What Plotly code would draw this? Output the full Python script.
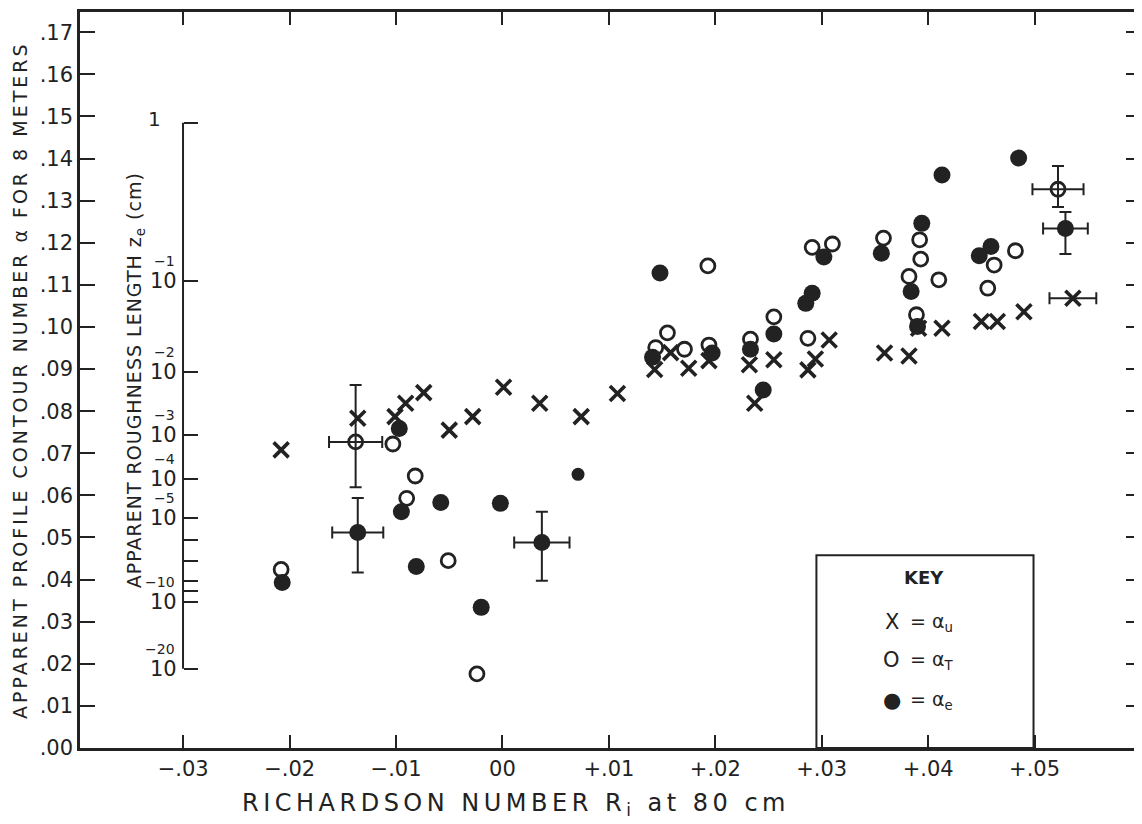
import plotly.graph_objects as go

INK = "#222222"

# ---------------- data (Richardson number Ri, contour number alpha) ----------------
# alpha_u  (X markers)
u_ri = [-0.0208, -0.0136, -0.0101, -0.0091, -0.0074, -0.0050, -0.0028, 0.0001, 0.0035,
        0.0074, 0.0108, 0.0143, 0.0158, 0.0175, 0.0194, 0.0232, 0.0237, 0.0255, 0.0287,
        0.0294, 0.0307, 0.0359, 0.0382, 0.0391, 0.0413, 0.0450, 0.0465, 0.0490]
u_alpha = [0.0708, 0.0783, 0.0787, 0.0819, 0.0844, 0.0755, 0.0787, 0.0857, 0.0819,
           0.0787, 0.0842, 0.0899, 0.0939, 0.0902, 0.0920, 0.0910, 0.0819, 0.0922, 0.0898,
           0.0924, 0.0969, 0.0938, 0.0931, 0.0997, 0.0997, 0.1013, 0.1013, 0.1036]

# alpha_T  (open circles)
t_ri = [-0.0208, -0.0103, -0.0082, -0.0090, -0.0051, -0.0024, 0.0144, 0.0155, 0.0171,
        0.0193, 0.0194, 0.0233, 0.0255, 0.0287, 0.0291, 0.0310, 0.0358, 0.0382, 0.0389,
        0.0392, 0.0393, 0.0410, 0.0456, 0.0462, 0.0482]
t_alpha = [0.0424, 0.0722, 0.0646, 0.0593, 0.0445, 0.0176, 0.0951, 0.0986, 0.0947,
           0.1145, 0.0957, 0.0971, 0.1024, 0.0973, 0.1189, 0.1197, 0.1211, 0.1120, 0.1029,
           0.1207, 0.1161, 0.1112, 0.1092, 0.1147, 0.1181]

# alpha_e  (filled circles)
e_ri = [-0.0207, -0.0097, -0.0095, -0.0081, -0.0058, -0.0020, -0.0002, 0.0141, 0.0148,
        0.0197, 0.0233, 0.0245, 0.0255, 0.0285, 0.0291, 0.0302, 0.0356, 0.0384, 0.0390,
        0.0394, 0.0413, 0.0448, 0.0459, 0.0485]
e_alpha = [0.0393, 0.0759, 0.0561, 0.0431, 0.0583, 0.0334, 0.0581, 0.0928, 0.1128,
           0.0938, 0.0947, 0.0850, 0.0983, 0.1056, 0.1080, 0.1166, 0.1175, 0.1084, 0.1001,
           0.1246, 0.1361, 0.1169, 0.1191, 0.1401]
# alpha_e point drawn as a smaller dot
e_small_ri = [0.0071]
e_small_alpha = [0.0650]

# points carrying error bars
ue_ri = [0.0536]
ue_alpha = [0.1068]
ue_dx = [0.0022]

te_ri = [-0.0138, 0.0522]
te_alpha = [0.0727, 0.1327]
te_dx = [0.0025, 0.0024]
te_dy_plus = [0.0135, 0.0055]
te_dy_minus = [0.0108, 0.0042]

ee_ri = [-0.0136, 0.0037, 0.0529]
ee_alpha = [0.0512, 0.0488, 0.1234]
ee_dx = [0.0024, 0.0026, 0.0021]
ee_dy_plus = [0.0082, 0.0073, 0.0039]
ee_dy_minus = [0.0095, 0.0091, 0.0061]

# axis ticks
x_ticks = [-0.03, -0.02, -0.01, 0.0, 0.01, 0.02, 0.03, 0.04, 0.05]
x_labels = ["\u2212.03", "\u2212.02", "\u2212.01", "00", "+.01", "+.02", "+.03", "+.04", "+.05"]
y_ticks = [i / 100 for i in range(18)]
y_labels = [".00", ".01", ".02", ".03", ".04", ".05", ".06", ".07", ".08", ".09",
            ".10", ".11", ".12", ".13", ".14", ".15", ".16", ".17"]

# secondary (roughness length) scale: tick positions expressed on the alpha scale
z_ticks = [0.1485, 0.1109, 0.0893, 0.0744, 0.0639, 0.0546, 0.0494, 0.0444,
           0.0397, 0.0373, 0.0347, 0.0188]
z_label_pos = [0.1485, 0.1109, 0.0893, 0.0744, 0.0639, 0.0546, 0.0347, 0.0188]
z_label_exp = ["", "\u22121", "\u22122", "\u22123", "\u22124", "\u22125", "\u221210", "\u221220"]

# ---------------- figure ----------------
fig = go.Figure()

x_marker = dict(symbol="x-thin-open", size=15, color=INK, line=dict(width=3.6, color=INK))
o_marker = dict(symbol="circle-open", size=14, color=INK, line=dict(width=2.8, color=INK))
e_marker = dict(symbol="circle", size=17, color=INK, line=dict(width=0))

fig.add_trace(go.Scatter(x=u_ri, y=u_alpha, mode="markers", marker=x_marker, name="\u03b1u"))
fig.add_trace(go.Scatter(x=t_ri, y=t_alpha, mode="markers", marker=o_marker, name="\u03b1T"))
fig.add_trace(go.Scatter(x=e_ri, y=e_alpha, mode="markers", marker=e_marker, name="\u03b1e"))
fig.add_trace(go.Scatter(x=e_small_ri, y=e_small_alpha, mode="markers",
                         marker=dict(symbol="circle", size=13, color=INK)))

err_style = dict(color=INK, thickness=2, width=6)
fig.add_trace(go.Scatter(x=ue_ri, y=ue_alpha, mode="markers", marker=x_marker,
                         error_x=dict(type="data", array=ue_dx, **err_style)))
fig.add_trace(go.Scatter(x=te_ri, y=te_alpha, mode="markers", marker=o_marker,
                         error_x=dict(type="data", array=te_dx, **err_style),
                         error_y=dict(type="data", array=te_dy_plus, arrayminus=te_dy_minus,
                                      symmetric=False, **err_style)))
fig.add_trace(go.Scatter(x=ee_ri, y=ee_alpha, mode="markers", marker=e_marker,
                         error_x=dict(type="data", array=ee_dx, **err_style),
                         error_y=dict(type="data", array=ee_dy_plus, arrayminus=ee_dy_minus,
                                      symmetric=False, **err_style)))
# empty trace so the secondary (roughness) axis gets drawn
fig.add_trace(go.Scatter(x=[None], y=[None], yaxis="y2", mode="markers",
                         hoverinfo="skip", showlegend=False))

FONT = "DejaVu Sans"
Y_RANGE = [0, 0.1748]
SEC_POS = 0.0971

# the page body has an 8px margin: size/margins compensate so the plot area
# lands at x 80..1141, y 12..748 of the window
fig.update_layout(
    width=1134, height=816,
    margin=dict(l=72, r=1, t=4, b=76, autoexpand=False),
    paper_bgcolor="white", plot_bgcolor="white",
    showlegend=False,
    font=dict(family=FONT, color=INK, size=18),
    xaxis=dict(range=[-0.0397, 0.0600], tickvals=x_ticks, ticktext=x_labels,
               ticks="inside", ticklen=13, tickwidth=2, tickcolor=INK,
               showline=True, linewidth=2.5, linecolor=INK, mirror="ticks",
               showgrid=False, zeroline=False, tickfont=dict(size=21, family=FONT)),
    yaxis=dict(range=Y_RANGE, tickvals=y_ticks, ticktext=y_labels,
               ticks="inside", ticklen=15, tickwidth=2, tickcolor=INK,
               showline=True, linewidth=2.5, linecolor=INK, mirror="ticks",
               showgrid=False, zeroline=False, tickfont=dict(size=21, family=FONT)),
    yaxis2=dict(range=Y_RANGE, overlaying="y", anchor="free", position=SEC_POS,
                side="left", tickmode="array", tickvals=z_ticks,
                ticks="inside", ticklen=14, tickwidth=2, tickcolor=INK,
                showticklabels=False, showline=False, showgrid=False, zeroline=False),
)

# secondary axis line (between its end ticks)
fig.add_shape(type="line", xref="paper", yref="y", x0=SEC_POS, x1=SEC_POS,
              y0=z_ticks[-1], y1=z_ticks[0], line=dict(color=INK, width=2))

# secondary axis labels
for pos, ex in zip(z_label_pos, z_label_exp):
    if ex == "":
        fig.add_annotation(xref="paper", yref="y", x=SEC_POS, y=pos, text="1",
                           showarrow=False, xanchor="right", xshift=-20, yshift=4,
                           font=dict(size=20, family=FONT))
    else:
        fig.add_annotation(xref="paper", yref="y", x=SEC_POS, y=pos, text="10",
                           showarrow=False, xanchor="right", xshift=-4,
                           font=dict(size=21, family=FONT))
        fig.add_annotation(xref="paper", yref="y", x=SEC_POS, y=pos, text=ex,
                           showarrow=False, xanchor="right", xshift=-6, yshift=20,
                           font=dict(size=14, family=FONT))

# axis titles
fig.add_annotation(xref="paper", yref="paper", x=-0.0565, y=0.5, textangle=-90,
                   xanchor="center", yanchor="middle",
                   text="<span style='letter-spacing:3px'>APPARENT PROFILE CONTOUR NUMBER "
                        "\u03b1 FOR 8 METERS</span>",
                   showarrow=False, font=dict(size=19, family=FONT))
fig.add_annotation(xref="paper", yref="paper", x=0.052, y=0.5, textangle=-90,
                   xanchor="center", yanchor="middle",
                   text="<span style='letter-spacing:1px'>APPARENT ROUGHNESS LENGTH "
                        "z<sub>e</sub> (cm)</span>",
                   showarrow=False, font=dict(size=19, family=FONT))
fig.add_annotation(xref="x", yref="paper", x=0.0013, y=0, yshift=-56,
                   xanchor="center", yanchor="middle",
                   text="<span style='letter-spacing:4.5px'>RICHARDSON NUMBER "
                        "R<sub>i</sub> at 80 cm</span>",
                   showarrow=False, font=dict(size=24, family=FONT))

# key box
fig.add_shape(type="rect", xref="x", yref="y", x0=0.0295, x1=0.0499, y0=0, y1=0.0458,
              line=dict(color=INK, width=2))
fig.add_annotation(xref="x", yref="y", x=0.0396, y=0.0406, text="<b>KEY</b>", showarrow=False,
                   xanchor="center", font=dict(size=18, family=FONT))
key_rows = [("X", "= \u03b1<sub>u</sub>", 0.0299), ("O", "= \u03b1<sub>T</sub>", 0.0209),
            ("\u25cf", "= \u03b1<sub>e</sub>", 0.0114)]
for sym, txt, yy in key_rows:
    fig.add_annotation(xref="x", yref="y", x=0.0366, y=yy, text=sym, showarrow=False,
                       xanchor="center", font=dict(size=21, family=FONT))
    fig.add_annotation(xref="x", yref="y", x=0.0381, y=yy, text=txt, showarrow=False,
                       xanchor="left", font=dict(size=19, family=FONT))

fig.write_html("out.html")
